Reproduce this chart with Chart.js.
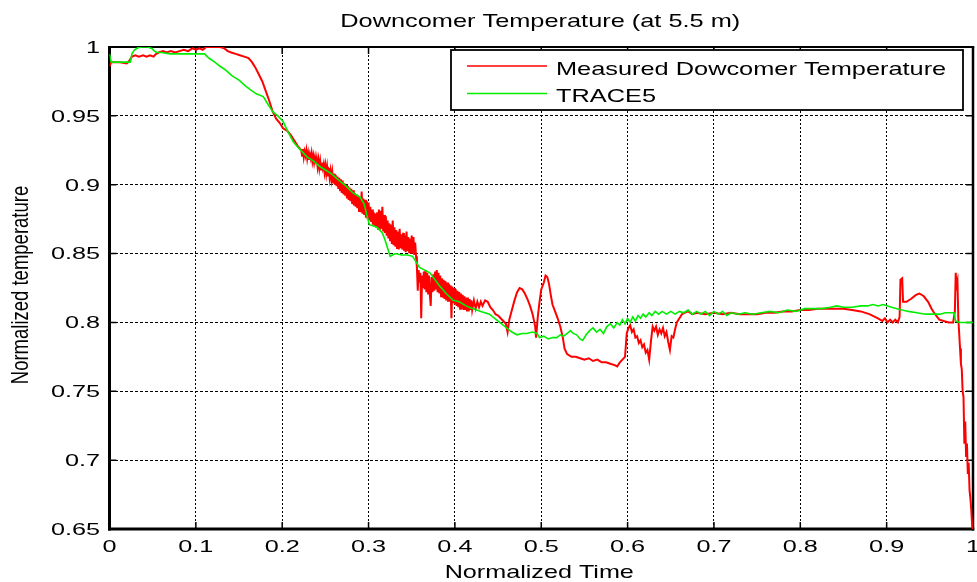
<!DOCTYPE html>
<html>
<head>
<meta charset="utf-8">
<title>Downcomer Temperature</title>
<script src="https://cdn.jsdelivr.net/npm/chart.js@4/dist/chart.umd.min.js"></script>
<style>
  html, body { margin: 0; padding: 0; background: #fff; }
  #wrap { position: relative; width: 977px; height: 582px; }
</style>
</head>
<body>
<div id="wrap"><canvas id="c"></canvas></div>
<script>
// ---- chart texts ----
const chartTitle = 'Downcomer Temperature (at 5.5 m)';
const xAxisTitle = 'Normalized Time';
const yAxisTitle = 'Normalized temperature';
const seriesNames = ['Measured Dowcomer Temperature', 'TRACE5'];

// ---- axes ----
const xTickValues = [0, 0.1, 0.2, 0.3, 0.4, 0.5, 0.6, 0.7, 0.8, 0.9, 1];
const xTickLabels = ['0', '0.1', '0.2', '0.3', '0.4', '0.5', '0.6', '0.7', '0.8', '0.9', '1'];
const yTickValues = [0.65, 0.7, 0.75, 0.8, 0.85, 0.9, 0.95, 1];
const yTickLabels = ['0.65', '0.7', '0.75', '0.8', '0.85', '0.9', '0.95', '1'];

// ---- measured downcomer temperature: [normalized time, normalized temperature] ----
const measuredPoints = [
  [0.000,0.986],[0.002,0.989],[0.012,0.989],[0.020,0.988],[0.023,0.990],[0.026,0.993],[0.030,0.994],
  [0.034,0.993],[0.039,0.994],[0.043,0.993],[0.047,0.994],[0.051,0.993],[0.054,0.995],[0.057,0.996],
  [0.062,0.997],[0.066,0.996],[0.071,0.997],[0.076,0.996],[0.081,0.997],[0.086,0.998],[0.091,0.997],
  [0.096,0.999],[0.100,0.998],[0.104,0.999],[0.108,0.998],[0.112,1.000],[0.120,1.000],[0.128,1.000],
  [0.133,0.999],[0.137,0.997],[0.141,0.996],[0.146,0.995],[0.151,0.994],[0.156,0.993],[0.161,0.992],
  [0.165,0.989],[0.169,0.985],[0.173,0.980],[0.177,0.975],[0.181,0.968],[0.185,0.961],[0.189,0.953],
  [0.193,0.948],[0.197,0.945],[0.201,0.941],[0.206,0.939],[0.210,0.936],[0.214,0.932],[0.218,0.928],
  // noisy cooldown band
  [0.222,0.925],[0.223,0.921],[0.224,0.926],[0.225,0.920],[0.226,0.924],[0.227,0.921],[0.228,0.925],
  [0.229,0.919],[0.230,0.923],[0.231,0.918],[0.232,0.922],[0.233,0.919],[0.234,0.923],[0.235,0.917],
  [0.236,0.921],[0.237,0.916],[0.238,0.920],[0.239,0.915],[0.240,0.919],[0.241,0.913],[0.242,0.918],
  [0.243,0.912],[0.244,0.917],[0.245,0.911],[0.246,0.916],[0.247,0.912],[0.248,0.915],[0.249,0.909],
  [0.250,0.914],[0.251,0.908],[0.252,0.913],[0.253,0.906],[0.254,0.912],[0.255,0.905],[0.256,0.910],
  [0.257,0.904],[0.258,0.909],[0.259,0.901],[0.260,0.908],[0.261,0.900],[0.262,0.907],[0.263,0.899],
  [0.264,0.906],[0.265,0.897],[0.266,0.905],[0.267,0.896],[0.268,0.904],[0.269,0.894],[0.270,0.903],
  [0.271,0.893],[0.272,0.901],[0.273,0.892],[0.274,0.900],[0.275,0.890],[0.276,0.899],[0.277,0.889],
  [0.278,0.898],[0.279,0.888],[0.280,0.897],[0.281,0.886],[0.282,0.896],[0.283,0.885],[0.284,0.894],
  [0.285,0.884],[0.286,0.893],[0.287,0.883],[0.288,0.892],[0.289,0.881],[0.290,0.891],[0.291,0.880],
  [0.292,0.895],[0.293,0.879],[0.294,0.890],[0.295,0.878],[0.296,0.889],[0.297,0.876],[0.298,0.888],
  [0.299,0.875],[0.300,0.887],[0.301,0.874],[0.302,0.884],[0.303,0.873],[0.304,0.882],[0.305,0.871],
  [0.306,0.880],[0.307,0.870],[0.308,0.879],[0.309,0.869],[0.310,0.880],[0.311,0.868],[0.312,0.882],
  [0.313,0.867],[0.314,0.881],[0.315,0.868],[0.316,0.884],[0.317,0.866],[0.318,0.878],[0.319,0.865],
  [0.320,0.877],[0.321,0.863],[0.322,0.874],[0.323,0.861],[0.324,0.872],[0.325,0.859],[0.326,0.871],
  [0.327,0.857],[0.328,0.874],[0.329,0.856],[0.330,0.869],[0.331,0.855],[0.332,0.867],[0.333,0.854],
  [0.334,0.866],[0.335,0.853],[0.336,0.868],[0.337,0.854],[0.338,0.864],[0.339,0.853],[0.340,0.865],
  [0.341,0.852],[0.342,0.863],[0.343,0.851],[0.344,0.866],[0.345,0.852],[0.346,0.862],[0.347,0.851],
  [0.348,0.861],[0.349,0.850],[0.350,0.863],[0.351,0.850],[0.352,0.862],[0.353,0.849],[0.354,0.858],
  [0.355,0.848],[0.356,0.840],[0.357,0.823],[0.358,0.838],[0.359,0.829],[0.360,0.836],[0.361,0.803],
  [0.362,0.834],[0.363,0.825],[0.364,0.837],[0.365,0.824],[0.366,0.838],[0.367,0.822],[0.368,0.836],
  [0.369,0.821],[0.370,0.834],[0.371,0.820],[0.372,0.812],[0.373,0.833],[0.374,0.822],[0.375,0.835],
  [0.376,0.823],[0.377,0.837],[0.378,0.824],[0.379,0.838],[0.380,0.822],[0.381,0.836],[0.382,0.821],
  [0.383,0.834],[0.384,0.819],[0.385,0.832],[0.386,0.818],[0.387,0.831],[0.388,0.817],[0.389,0.830],
  [0.390,0.816],[0.391,0.829],[0.392,0.815],[0.393,0.828],[0.394,0.815],[0.395,0.827],[0.396,0.803],
  [0.397,0.826],[0.398,0.814],[0.399,0.825],[0.400,0.813],[0.401,0.824],[0.402,0.812],[0.403,0.823],
  [0.404,0.811],[0.405,0.822],[0.406,0.810],[0.407,0.821],[0.408,0.810],[0.409,0.820],[0.410,0.809],
  [0.411,0.819],[0.412,0.809],[0.413,0.818],[0.414,0.808],[0.415,0.818],[0.416,0.808],[0.417,0.817],
  [0.418,0.809],[0.419,0.816],[0.420,0.809],[0.422,0.816],[0.424,0.810],[0.426,0.815],[0.428,0.811],
  [0.430,0.815],[0.432,0.812],[0.435,0.816],[0.438,0.815],[0.441,0.811],[0.444,0.809],[0.447,0.806],
  // oscillation and dip
  [0.450,0.805],[0.453,0.803],[0.456,0.801],[0.459,0.799],[0.461,0.793],[0.463,0.802],[0.466,0.809],
  [0.469,0.816],[0.472,0.822],[0.475,0.825],[0.478,0.824],[0.481,0.821],[0.484,0.817],[0.487,0.812],
  [0.490,0.806],[0.493,0.797],[0.494,0.789],[0.496,0.804],[0.498,0.815],[0.500,0.824],[0.503,0.829],
  [0.505,0.834],[0.507,0.833],[0.509,0.828],[0.511,0.820],[0.513,0.813],[0.516,0.808],[0.519,0.803],
  [0.522,0.797],[0.525,0.789],[0.527,0.781],[0.530,0.777],[0.535,0.775],[0.540,0.775],[0.545,0.774],
  [0.550,0.773],[0.555,0.774],[0.560,0.772],[0.565,0.773],[0.570,0.771],[0.575,0.771],[0.580,0.770],
  [0.585,0.769],[0.588,0.768],[0.591,0.771],[0.594,0.773],[0.597,0.775],[0.599,0.792],[0.601,0.796],
  [0.603,0.798],[0.605,0.793],[0.607,0.795],[0.609,0.789],[0.611,0.790],[0.613,0.785],[0.615,0.787],
  [0.617,0.782],[0.619,0.784],[0.621,0.778],[0.623,0.780],[0.625,0.773],[0.627,0.786],[0.629,0.797],
  [0.631,0.794],[0.633,0.797],[0.635,0.791],[0.637,0.795],[0.639,0.792],[0.641,0.796],[0.643,0.790],
  [0.645,0.793],[0.647,0.786],[0.649,0.780],[0.651,0.790],[0.653,0.789],[0.655,0.795],[0.657,0.800],
  [0.660,0.803],[0.663,0.806],[0.666,0.807],[0.670,0.808],[0.675,0.806],[0.680,0.807],[0.690,0.806],
  // late plateau and final cooldown
  [0.700,0.807],[0.710,0.806],[0.720,0.807],[0.730,0.806],[0.740,0.806],[0.750,0.806],[0.760,0.807],
  [0.770,0.807],[0.780,0.808],[0.790,0.808],[0.800,0.809],[0.810,0.809],[0.820,0.810],[0.830,0.810],
  [0.840,0.810],[0.850,0.810],[0.860,0.809],[0.870,0.808],[0.880,0.806],[0.890,0.803],[0.895,0.801],
  [0.898,0.803],[0.901,0.800],[0.904,0.802],[0.907,0.800],[0.910,0.802],[0.913,0.800],[0.915,0.804],
  [0.916,0.831],[0.918,0.832],[0.919,0.815],[0.923,0.815],[0.928,0.817],[0.934,0.820],[0.938,0.821],
  [0.943,0.819],[0.948,0.815],[0.952,0.810],[0.956,0.806],[0.961,0.802],[0.966,0.801],[0.972,0.800],
  [0.977,0.800],[0.979,0.808],[0.980,0.836],[0.981,0.827],[0.982,0.830],[0.983,0.803],[0.984,0.792],
  [0.985,0.781],[0.986,0.770],[0.987,0.766],[0.988,0.750],[0.989,0.746],[0.990,0.712],[0.991,0.728],
  [0.992,0.703],[0.993,0.712],[0.994,0.690],[0.995,0.698],[0.996,0.678],[0.997,0.672],[0.998,0.664],
  [0.999,0.653],[1.000,0.648]
];

// ---- TRACE5 prediction: [normalized time, normalized temperature] ----
const tracePoints = [
  [0.000,0.995],[0.002,0.989],[0.024,0.989],[0.026,0.995],[0.029,0.998],[0.033,0.9995],[0.038,1.000],
  [0.044,1.000],[0.049,0.999],[0.052,0.997],[0.055,0.996],[0.060,0.996],[0.070,0.995],[0.080,0.995],
  [0.090,0.995],[0.100,0.995],[0.110,0.995],[0.115,0.992],[0.122,0.989],[0.128,0.986],[0.135,0.983],
  [0.142,0.979],[0.150,0.976],[0.157,0.972],[0.163,0.969],[0.170,0.966],[0.178,0.964],[0.183,0.959],
  [0.189,0.953],[0.195,0.950],[0.201,0.946],[0.207,0.938],[0.213,0.931],[0.220,0.926],[0.229,0.920],
  [0.237,0.917],[0.244,0.913],[0.252,0.910],[0.259,0.907],[0.266,0.903],[0.274,0.899],[0.282,0.894],
  [0.290,0.891],[0.295,0.886],[0.298,0.878],[0.301,0.871],[0.306,0.870],[0.310,0.869],[0.316,0.865],
  [0.319,0.860],[0.322,0.854],[0.325,0.848],[0.331,0.850],[0.338,0.849],[0.345,0.849],[0.351,0.848],
  [0.355,0.844],[0.359,0.840],[0.365,0.838],[0.371,0.836],[0.377,0.831],[0.383,0.826],[0.390,0.821],
  [0.398,0.816],[0.405,0.815],[0.413,0.812],[0.421,0.810],[0.430,0.808],[0.440,0.806],[0.450,0.801],
  [0.460,0.796],[0.466,0.793],[0.472,0.791],[0.478,0.792],[0.483,0.792],[0.490,0.793],[0.495,0.792],
  [0.498,0.789],[0.503,0.790],[0.508,0.788],[0.513,0.789],[0.518,0.789],[0.522,0.791],[0.526,0.790],
  [0.530,0.792],[0.534,0.794],[0.537,0.792],[0.541,0.791],[0.545,0.788],[0.548,0.787],[0.552,0.791],
  [0.556,0.794],[0.560,0.796],[0.564,0.793],[0.568,0.795],[0.572,0.792],[0.576,0.797],[0.580,0.799],
  [0.584,0.796],[0.588,0.800],[0.591,0.798],[0.594,0.802],[0.597,0.799],[0.600,0.803],[0.603,0.800],
  [0.606,0.804],[0.609,0.801],[0.612,0.805],[0.615,0.803],[0.618,0.806],[0.621,0.804],[0.625,0.807],
  [0.628,0.805],[0.632,0.808],[0.636,0.806],[0.640,0.808],[0.645,0.806],[0.650,0.808],[0.655,0.806],
  [0.660,0.808],[0.665,0.807],[0.670,0.809],[0.675,0.806],[0.680,0.808],[0.685,0.806],[0.690,0.808],
  [0.695,0.805],[0.700,0.808],[0.705,0.806],[0.710,0.808],[0.715,0.805],[0.720,0.807],[0.728,0.806],
  [0.736,0.807],[0.745,0.806],[0.755,0.807],[0.765,0.808],[0.775,0.807],[0.785,0.809],[0.795,0.808],
  [0.805,0.810],[0.815,0.810],[0.825,0.810],[0.835,0.811],[0.842,0.812],[0.850,0.811],[0.860,0.811],
  [0.870,0.812],[0.878,0.812],[0.884,0.813],[0.890,0.812],[0.896,0.813],[0.901,0.812],[0.906,0.811],
  [0.912,0.810],[0.918,0.809],[0.925,0.808],[0.935,0.807],[0.945,0.806],[0.955,0.806],[0.962,0.806],
  [0.968,0.807],[0.974,0.807],[0.978,0.807],[0.980,0.801],[0.985,0.800],[0.992,0.800],[1.000,0.800]
];

const FONT = '"Liberation Sans", Arial, Helvetica, sans-serif';

// Text drawn with a horizontal stretch factor (wide, plot-export style lettering).
function stretchedText(ctx, text, x, y, size, sx, align) {
  ctx.save();
  ctx.translate(x, y);
  ctx.scale(sx, 1);
  ctx.font = size + 'px ' + FONT;
  ctx.textAlign = align;
  ctx.textBaseline = 'alphabetic';
  ctx.fillText(text, 0, 0);
  ctx.restore();
}

// Box around the plot area with inward tick marks on all four sides,
// plus the wide-lettered tick numbers, titles and the boxed legend.
const framePlugin = {
  id: 'frame',
  beforeDatasetsDraw(chart) {
    const { ctx, chartArea: a, scales: { x, y } } = chart;
    ctx.save();
    ctx.setLineDash([]);
    ctx.strokeStyle = '#000';
    ctx.lineWidth = 1.5;
    ctx.beginPath();
    x.ticks.forEach(t => {
      const px = x.getPixelForValue(t.value);
      ctx.moveTo(px, a.bottom); ctx.lineTo(px, a.bottom - 7);
      ctx.moveTo(px, a.top); ctx.lineTo(px, a.top + 7);
    });
    y.ticks.forEach(t => {
      const py = y.getPixelForValue(t.value);
      ctx.moveTo(a.left, py); ctx.lineTo(a.left + 7, py);
      ctx.moveTo(a.right, py); ctx.lineTo(a.right - 7, py);
    });
    ctx.stroke();
    const edge = (x1, y1, x2, y2, w) => {
      ctx.lineWidth = w;
      ctx.beginPath(); ctx.moveTo(x1, y1); ctx.lineTo(x2, y2); ctx.stroke();
    };
    edge(a.left - 1.5, a.top, a.right + 1.25, a.top, 2);
    edge(a.right, a.top, a.right, a.bottom + 1.5, 2.5);
    edge(a.left - 1.5, a.bottom, a.right + 1.25, a.bottom, 3);
    edge(a.left, a.top - 1, a.left, a.bottom + 1.5, 3);

    // tick numbers, placed by the scales
    ctx.fillStyle = '#000';
    x.ticks.forEach((t, i) => {
      stretchedText(ctx, xTickLabels[i], x.getPixelForValue(t.value), 552, 16.3, 1.55, 'center');
    });
    y.ticks.forEach((t, i) => {
      stretchedText(ctx, yTickLabels[i], 100, y.getPixelForValue(t.value) + 5.9, 16.3, 1.55, 'right');
    });
    ctx.restore();
  },
  afterDraw(chart) {
    const { ctx, chartArea: a } = chart;
    ctx.save();
    ctx.fillStyle = '#000';
    const cx = (a.left + a.right) / 2;

    // title and x-axis title
    stretchedText(ctx, chartTitle, cx - 1, 26.5, 18.5, 1.37, 'center');
    stretchedText(ctx, xAxisTitle, cx - 2, 578, 18.5, 1.36, 'center');

    // y-axis title (rotated)
    ctx.save();
    ctx.translate(27.5, 285);
    ctx.scale(1.3, 1);
    ctx.rotate(-Math.PI / 2);
    ctx.font = '18.5px ' + FONT;
    ctx.textAlign = 'center';
    ctx.textBaseline = 'alphabetic';
    ctx.fillText(yAxisTitle, 0, 0);
    ctx.restore();

    // legend box
    const box = { left: 451, top: 50, right: 963, bottom: 110 };
    ctx.fillStyle = '#fff';
    ctx.fillRect(box.left, box.top, box.right - box.left, box.bottom - box.top);
    ctx.strokeStyle = '#000';
    ctx.lineWidth = 1.8;
    ctx.setLineDash([]);
    ctx.strokeRect(box.left, box.top, box.right - box.left, box.bottom - box.top);
    const rows = [{ line: 66, base: 75 }, { line: 93.5, base: 101.7 }];
    chart.data.datasets.forEach((ds, i) => {
      ctx.strokeStyle = ds.borderColor;
      ctx.lineWidth = 1.3;
      ctx.beginPath();
      ctx.moveTo(467, rows[i].line); ctx.lineTo(547, rows[i].line);
      ctx.stroke();
      ctx.fillStyle = '#000';
      stretchedText(ctx, ds.label, 556, rows[i].base, 18.5, 1.37, 'left');
    });
    ctx.restore();
  }
};

const toXY = pts => pts.map(([t, v]) => ({ x: t, y: v }));

new Chart(document.getElementById('c'), {
  type: 'line',
  data: {
    datasets: [
      {
        label: seriesNames[0],
        data: toXY(measuredPoints),
        borderColor: '#ff0000',
        borderWidth: 2,
        order: 1
      },
      {
        label: seriesNames[1],
        data: toXY(tracePoints),
        borderColor: '#00ee00',
        borderWidth: 1.6,
        order: 0
      }
    ]
  },
  options: {
    responsive: true,
    maintainAspectRatio: false,
    animation: false,
    events: [],
    layout: { padding: { top: 47, right: 4, left: 0, bottom: 0 } },
    elements: { point: { radius: 0 }, line: { tension: 0 } },
    plugins: {
      legend: { display: false },
      title: { display: false },
      tooltip: { enabled: false }
    },
    scales: {
      x: {
        type: 'linear',
        min: 0,
        max: 1,
        afterBuildTicks: s => { s.ticks = xTickValues.map(v => ({ value: v })); },
        afterFit: s => { s.height = 53; },
        ticks: { display: false },
        grid: { color: '#000', lineWidth: 1, drawTicks: false },
        border: { display: false, dash: [2, 2] }
      },
      y: {
        type: 'linear',
        min: 0.65,
        max: 1,
        afterBuildTicks: s => { s.ticks = yTickValues.map(v => ({ value: v })); },
        afterFit: s => { s.width = 109.5; },
        ticks: { display: false },
        grid: { color: '#000', lineWidth: 1, drawTicks: false },
        border: { display: false, dash: [3, 2] }
      }
    }
  },
  plugins: [framePlugin]
});
</script>
</body>
</html>
